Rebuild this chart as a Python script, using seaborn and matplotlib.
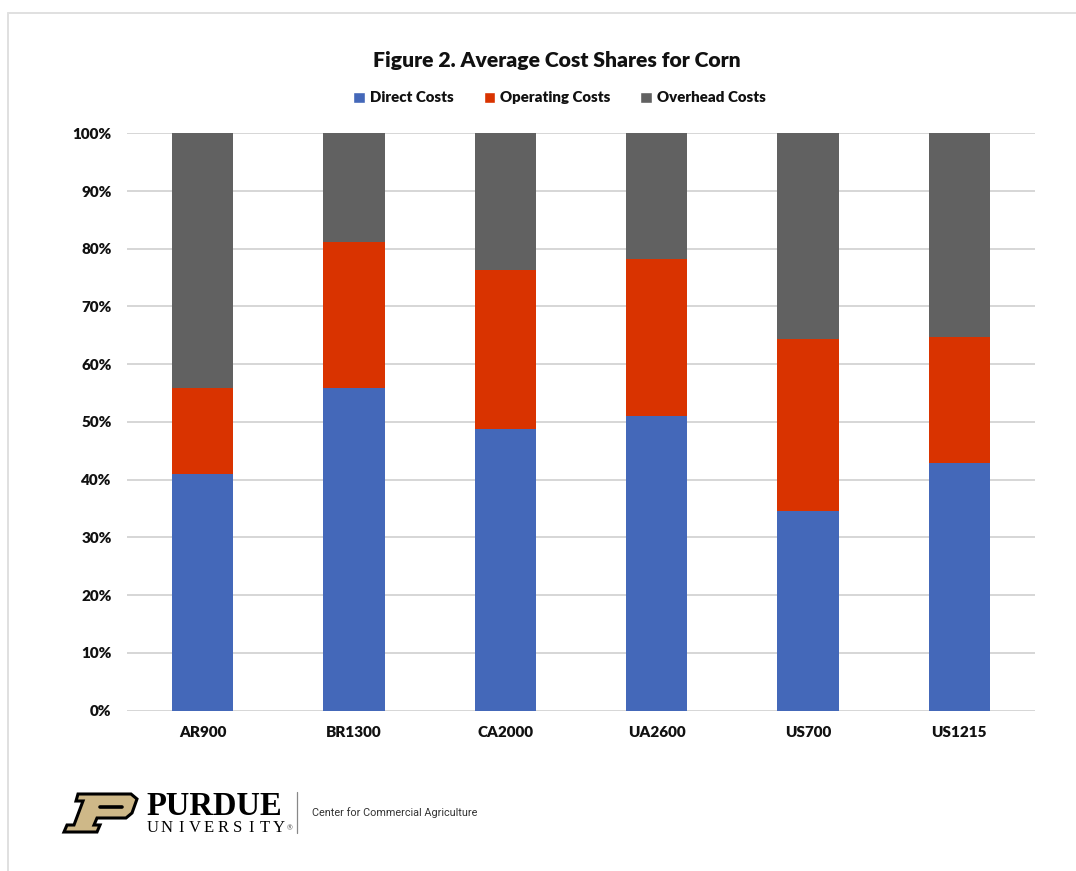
import numpy as np
import pandas as pd
import seaborn as sns
import matplotlib.pyplot as plt
from matplotlib.patches import Patch, Polygon
from matplotlib.lines import Line2D
from matplotlib.ticker import PercentFormatter

# data (percent of total cost)
farms = ["AR900", "BR1300", "CA2000", "UA2600", "US700", "US1215"]
direct = [41.0, 55.8, 48.8, 51.1, 34.6, 42.9]
operating = [14.8, 25.3, 27.5, 27.1, 29.8, 21.8]
overhead = [44.2, 18.9, 23.7, 21.8, 35.6, 35.3]
series = ["Direct Costs", "Operating Costs", "Overhead Costs"]
colors = ["#4468B9", "#D93300", "#616161"]

df = pd.DataFrame({"farm": farms, "Direct Costs": direct,
                   "Operating Costs": operating, "Overhead Costs": overhead})
df["op_top"] = df["Direct Costs"] + df["Operating Costs"]
df["oh_top"] = df["op_top"] + df["Overhead Costs"]

sns.set_style("white")
plt.rcParams["font.family"] = ["Lato", "DejaVu Sans"]

W, H = 1076, 871
fig = plt.figure(figsize=(W / 100, H / 100), dpi=100)

# background layer for frame and logo, pixel coordinates
bg = fig.add_axes([0, 0, 1, 1], zorder=0)
bg.set_xlim(0, W)
bg.set_ylim(H, 0)
bg.axis("off")
bg.add_line(Line2D([8, 8], [13, H], color="#e0e0e0", lw=1.4))
bg.add_line(Line2D([8, W], [13, 13], color="#e0e0e0", lw=1.4))

# Purdue P mark
p_outer = [(78, 794), (131, 794), (137, 799), (132, 813), (126, 818),
           (97, 818), (94, 825), (100, 825), (97, 832), (64, 832),
           (67, 825), (74, 825), (83, 801), (76, 801)]
bg.add_patch(Polygon(p_outer, closed=True, facecolor="#CEB888",
                     edgecolor="black", lw=2.2, joinstyle="miter"))
bg.add_line(Line2D([100, 122], [806.5, 806.5], color="black", lw=2.6))
bg.text(146, 815, "PURDUE", family=["Liberation Serif"], weight="bold",
        fontsize=23.5, color="black", va="baseline", ha="left")
for i, ch in enumerate("UNIVERSITY"):
    bg.text(153 + i * 14.0, 832, ch, family=["Liberation Serif"],
            fontsize=12, color="black", va="baseline", ha="center")
bg.text(290, 830, "®", fontsize=5, color="#555555", ha="center", va="baseline")
bg.add_line(Line2D([297, 297], [792, 833], color="#888888", lw=0.9))
bg.text(312, 813, "Center for Commercial Agriculture",
        family=["Roboto", "DejaVu Sans"],
        fontsize=7.8, color="#333333", va="center", ha="left")

# main chart
ax = fig.add_axes([127 / W, 1 - 710.5 / H, 908 / W, (710.5 - 133.3) / H], zorder=1)
ax.set_facecolor("none")
bw = 0.405
sns.barplot(data=df, x="farm", y="oh_top", color=colors[2], width=bw,
            saturation=1, linewidth=0, ax=ax, zorder=3)
sns.barplot(data=df, x="farm", y="op_top", color=colors[1], width=bw,
            saturation=1, linewidth=0, ax=ax, zorder=3)
sns.barplot(data=df, x="farm", y="Direct Costs", color=colors[0], width=bw,
            saturation=1, linewidth=0, ax=ax, zorder=3)

ax.set_ylim(0, 100)
ax.set_xlim(-0.5, len(farms) - 0.5)
ax.set_yticks(np.arange(0, 101, 10))
ax.yaxis.set_major_formatter(PercentFormatter(decimals=0))
ax.grid(axis="y", color="#cccccc", lw=1.1, zorder=0)
ax.set_axisbelow(True)
for s in ax.spines.values():
    s.set_visible(False)
ax.tick_params(axis="both", length=0, labelsize=11, colors="#111111")
ax.tick_params(axis="y", pad=11)
ax.tick_params(axis="x", pad=11)
for lab in ax.get_xticklabels() + ax.get_yticklabels():
    lab.set_fontweight("heavy")
ax.set_xlabel("")
ax.set_ylabel("")

fig.text(0.5177, 1 - 60 / H, "Figure 2. Average Cost Shares for Corn",
         ha="center", va="center", fontsize=15.2, weight="heavy", color="#111111")
handles = [Patch(facecolor=c, label=s) for c, s in zip(colors, series)]
leg = fig.legend(handles=handles, loc="center", bbox_to_anchor=(0.52, 1 - 98 / H),
                 ncol=3, frameon=False, fontsize=10.8, handlelength=0.75,
                 handleheight=0.75, handletextpad=0.35, columnspacing=2.0)
for t in leg.get_texts():
    t.set_fontweight("heavy")
    t.set_color("#111111")

fig.savefig("out.png", dpi=100, facecolor="white")
